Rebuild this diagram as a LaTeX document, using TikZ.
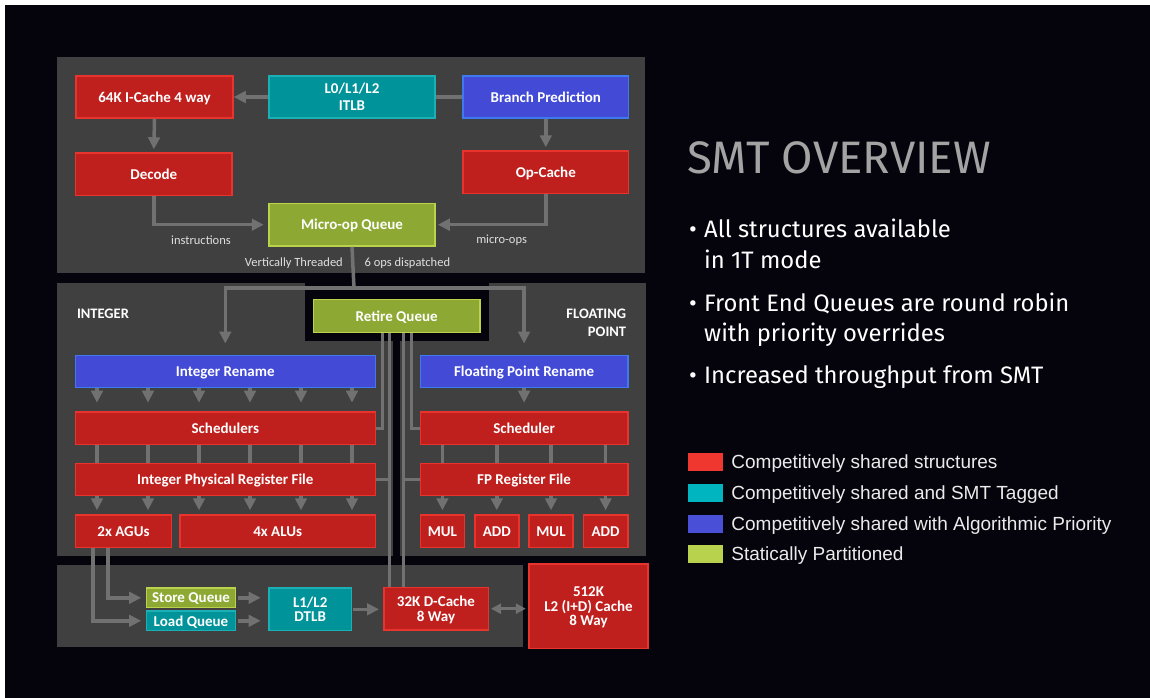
\documentclass[tikz,border=0pt]{standalone}
\usepackage{fontspec}
\setmainfont{Carlito}
\newfontfamily\slidefont{Fira Sans}
\newfontfamily\keyfont{Liberation Sans}
\usetikzlibrary{arrows.meta,positioning}

\definecolor{slidebg}{HTML}{05040C}
\definecolor{panelgray}{HTML}{404040}
\definecolor{wiregray}{HTML}{717171}
\definecolor{redfill}{HTML}{C0201D}
\definecolor{redline}{HTML}{E8342C}
\definecolor{tealfill}{HTML}{00939A}
\definecolor{tealline}{HTML}{1BB0B6}
\definecolor{bluefill}{HTML}{424AD6}
\definecolor{blueline}{HTML}{3D7AF0}
\definecolor{greenfill}{HTML}{8DA933}
\definecolor{greenline}{HTML}{BAD24C}
\definecolor{titlegray}{HTML}{A3A3A3}
\definecolor{keyred}{HTML}{F0372F}
\definecolor{keyteal}{HTML}{00B5C0}
\definecolor{keyblue}{HTML}{4A4FD8}
\definecolor{keygreen}{HTML}{B9D24D}

\begin{document}
\begin{tikzpicture}[x=1pt,y=-1pt,
    box/.style={draw, line width=1.5pt, text=white, inner sep=0pt, align=center,
        text depth=0pt, font=\bfseries\fontsize{15}{14.5}\selectfont},
    dims/.style 2 args={minimum width=#1pt, minimum height=#2pt},
    shared/.style={box, fill=redfill, draw=redline},
    tagged/.style={box, fill=tealfill, draw=tealline},
    prioritized/.style={box, fill=bluefill, draw=blueline},
    partitioned/.style={box, fill=greenfill, draw=greenline},
    wire/.style={draw=wiregray, line width=3.5pt},
    arr/.style={wire, -{Triangle[length=12pt,width=11.5pt]}},
    note/.style={text=white!88!black, inner sep=0pt, font=\fontsize{12.5}{13}\selectfont},
    heading/.style={text=white, inner sep=0pt, font=\bfseries\fontsize{14.5}{17.5}\selectfont},
    bulletline/.style={text=white, inner sep=0pt, anchor=base west,
        font=\slidefont\fontsize{23.8}{26}\selectfont},
    swatch/.style={minimum width=34.4pt, minimum height=17.5pt, inner sep=0pt},
    keytext/.style={text=white!92!black, inner sep=0pt, text depth=0pt,
        font=\keyfont\fontsize{19}{20}\selectfont}]

    \useasboundingbox (0,0) rectangle (1150,698);
    \fill[white] (0,0) rectangle (1150,698);
    \fill[slidebg] (5,5) rectangle (1150,698);

    % panels
    \fill[panelgray] (57,57) rectangle (645,273);
    \fill[panelgray] (57,283) rectangle (646,556);
    \fill[slidebg] (304.5,283) rectangle (489,341);
    \fill[slidebg] (393.3,341) rectangle (400,556);
    \fill[panelgray] (57,565) rectangle (523,647);

    % front end
    \node[shared, dims={157}{42}] (icache) at (154.5,97) {64K I-Cache 4 way};
    \node[tagged, dims={166}{42}, font=\bfseries\fontsize{15}{17}\selectfont] (itlb) at (352,97) {L0/L1/L2\\ITLB};
    \node[prioritized, dims={165.6}{42}] (bp) at (545.8,97) {Branch Prediction};
    \node[shared, dims={156.5}{42.5}] (decode) at (153.8,174.3) {Decode};
    \node[shared, dims={165.6}{42.3}] (opcache) at (545.8,172.2) {Op-Cache};
    \node[partitioned, dims={166}{42.7}] (uopq) at (352,224.7) {Micro-op Queue};

    \draw[wire] (bp.west) -- (itlb.east);
    \draw[arr] (itlb.west) -- (icache.east);
    \draw[arr, shorten >=3pt] (icache.south) -- (decode.north);
    \draw[arr, shorten >=3pt] (bp.south) -- (opcache.north);
    \draw[arr, shorten >=4.5pt] (decode.south) |- (uopq.west);
    \draw[arr, shorten >=2pt] (opcache.south) |- (uopq.east);

    \node[note] (instr) at (201,240) {instructions};
    \node[note] (uops) at (501.6,240) {micro-ops};
    \node[note, anchor=east] (vthread) at (343,263) {Vertically Threaded};
    \node[note, anchor=west] (dispatch) at (364.5,263) {6 ops dispatched};

    % execution
    \node[heading, anchor=west] (intlabel) at (76.8,314) {INTEGER};
    \node[heading, anchor=east, align=right] (fplabel) at (626.3,323) {FLOATING\\POINT};
    \node[partitioned, dims={166.7}{33}] (retq) at (396.7,315.8) {Retire Queue};

    \node[prioritized, dims={300}{32}] (irename) at (225.3,371.3) {Integer Rename};
    \node[prioritized, dims={207.4}{32}] (fprename) at (524.1,371.3) {Floating Point Rename};
    \node[shared, dims={300}{32.7}] (isched) at (225.3,428.3) {Schedulers};
    \node[shared, dims={207.4}{32.7}] (fpsched) at (524.1,428.3) {Scheduler};
    \node[shared, dims={300}{32.4}] (iprf) at (225.3,479.5) {Integer Physical Register File};
    \node[shared, dims={207.4}{32.4}] (fprf) at (524.1,479.5) {FP Register File};
    \node[shared, dims={96.4}{32.3}] (agu) at (123.5,531.2) {2x AGUs};
    \node[shared, dims={195.3}{32.3}] (alu) at (277.7,531.2) {4x ALUs};
    \node[shared, dims={44}{32.3}] (mul1) at (442.4,531.2) {MUL};
    \node[shared, dims={44}{32.3}] (add1) at (496.8,531.2) {ADD};
    \node[shared, dims={44}{32.3}] (mul2) at (551,531.2) {MUL};
    \node[shared, dims={44.4}{32.3}] (add2) at (605.6,531.2) {ADD};

    \coordinate (split) at (354,288);
    \draw[wire] (uopq.south) -- (split);
    \draw[arr, shorten >=11pt] (split) -| (irename.north);
    \draw[arr, shorten >=11pt] (split) -| (fprename.north);

    \foreach \x in {97,148,199,250,301,352} {
        \draw[arr, shorten >=8.5pt] (\x,0 |- irename.south) -- (\x,0 |- isched.north);
        \draw[wire] (\x,0 |- isched.south) -- (\x,0 |- iprf.north);
        \draw[arr, shorten >=4pt] (\x,0 |- iprf.south) -- (\x,0 |- agu.north);
    }
    \draw[arr, shorten >=8.5pt] (fprename.south) -- (fpsched.north);
    \foreach \u in {mul1,add1,mul2,add2} {
        \draw[wire] (\u |- fpsched.south) -- (\u |- fprf.north);
        \draw[arr, shorten >=4pt] (\u |- fprf.south) -- (\u);
    }

    % retire queue ties
    \draw[wire, line width=3pt] (382,0 |- retq.south) |- (isched.east);
    \draw[wire, line width=3pt] (411.7,0 |- retq.south) |- (fpsched.west);
    \draw[wire, line width=3pt] (389.5,0 |- retq.south) -- (389.5,587.3);
    \draw[wire, line width=3pt] (403.5,0 |- retq.south) -- (403.5,587.3);
    \draw[wire, line width=3pt] (iprf.east) -- (389.5,0 |- iprf.east);
    \draw[wire, line width=3pt] (fprf.west) -- (403.5,0 |- fprf.west);

    % load/store
    \node[partitioned, dims={89.2}{19.7}] (stq) at (191,597.8) {Store Queue};
    \node[tagged, dims={89.2}{19.7}] (ldq) at (191,620.8) {Load Queue};
    \node[tagged, dims={82.6}{42.7}] (dtlb) at (310.2,609.3) {L1/L2\\DTLB};
    \node[shared, dims={104.5}{42.7}] (dcache) at (436,608.7) {32K D-Cache\\8 Way};
    \node[shared, dims={119}{84.7}] (l2) at (588.5,606.3) {512K\\L2 (I+D) Cache\\8 Way};

    \draw[arr, shorten >=4.5pt] (108,0 |- agu.south) |- (stq.west);
    \draw[arr, shorten >=4.5pt] (93,0 |- agu.south) |- (ldq.west);
    \draw[arr, shorten <=2pt, shorten >=7.5pt] (stq.east) -- (stq.east -| dtlb.west);
    \draw[arr, shorten <=2pt, shorten >=7.5pt] (ldq.east) -- (ldq.east -| dtlb.west);
    \draw[arr, shorten <=1pt, shorten >=4pt] (dtlb.east) -- (dtlb.east -| dcache.west);
    \draw[wire, line width=3pt, {Triangle[length=10pt,width=10pt]}-{Triangle[length=10pt,width=10pt]},
        shorten <=2pt, shorten >=2.5pt] (dcache.east) -- (dcache.east -| l2.west);

    % slide text
    \node[text=titlegray, inner sep=0pt, anchor=base west,
        font=\slidefont\fontsize{45.5}{47}\selectfont] (title) at (687,173.3) {SMT OVERVIEW};
    \foreach \y in {237.3,311,383.3}
        \node[bulletline] at (689,\y) {•};
    \node[bulletline] (p1a) at (704,237.3) {All structures available};
    \node[bulletline] (p1b) at (704,268.3) {in 1T mode};
    \node[bulletline] (p2a) at (704,311) {Front End Queues are round robin};
    \node[bulletline] (p2b) at (704,341.7) {with priority overrides};
    \node[bulletline] (p3) at (704,383.3) {Increased throughput from SMT};

    % legend
    \node[swatch, fill=keyred] (k1) at (705.5,462) {};
    \node[swatch, fill=keyteal] (k2) at (705.5,492.9) {};
    \node[swatch, fill=keyblue] (k3) at (705.5,523.9) {};
    \node[swatch, fill=keygreen] (k4) at (705.5,553.9) {};
    \node[keytext, right=8.3pt of k1] (t1) {Competitively shared structures};
    \node[keytext, right=8.3pt of k2] (t2) {Competitively shared and SMT Tagged};
    \node[keytext, right=8.3pt of k3] (t3) {Competitively shared with Algorithmic Priority};
    \node[keytext, right=8.3pt of k4] (t4) {Statically Partitioned};
\end{tikzpicture}
\end{document}
